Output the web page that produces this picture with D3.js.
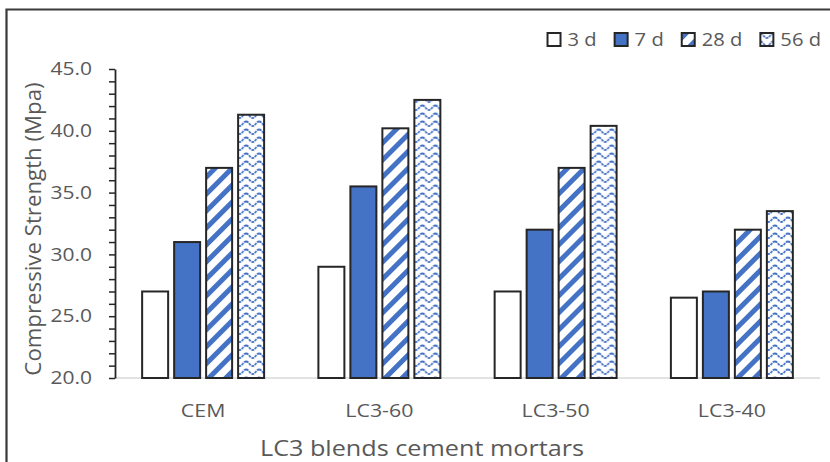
<!DOCTYPE html>
<html>
<head>
<meta charset="utf-8">
<script src="https://cdn.jsdelivr.net/npm/d3@7"></script>
<style>
  html, body { margin: 0; padding: 0; background: #fff; }
  svg { display: block; }
  text { font-family: "Open Sans", "Noto Sans", sans-serif; fill: #595959; }
</style>
</head>
<body>
<svg id="chart" width="830" height="462"></svg>
<script>
// Compressive strength of mortars by curing age
const categories = ["CEM", "LC3-60", "LC3-50", "LC3-40"];
const ages = ["3 d", "7 d", "28 d", "56 d"];
const strength3d  = [27.0, 29.0, 27.0, 26.5];
const strength7d  = [31.0, 35.5, 32.0, 27.0];
const strength28d = [37.0, 40.2, 37.0, 32.0];
const strength56d = [41.3, 42.5, 40.4, 33.5];
const yMajorTicks = [20, 25, 30, 35, 40, 45];
const yMinorTicks = d3.range(20, 46, 1);

const seriesValues = [strength3d, strength7d, strength28d, strength56d];
const rows = categories.map((c, i) => ({
  category: c,
  values: ages.map((a, j) => ({ age: a, value: seriesValues[j][i] }))
}));

const W = 830, H = 462;
const plot = { left: 115, right: 820, top: 69, bottom: 378 };
const blue = "#4472C4";
const edge = "#262626";

// widen glyphs horizontally around each text's own anchor point
function stretch(sel, sx) {
  sel.each(function () {
    const t = d3.select(this);
    const x = +t.attr("x") || 0;
    t.attr("transform", `translate(${x * (1 - sx)},0) scale(${sx},1)`);
  });
}

const svg = d3.select("#chart");
const defs = svg.append("defs");

// wide upward diagonal stripes
const diag = defs.append("pattern")
  .attr("id", "pat28").attr("patternUnits", "userSpaceOnUse")
  .attr("width", 12).attr("height", 12)
  .attr("patternTransform", "rotate(45)");
diag.append("rect").attr("width", 12).attr("height", 12).attr("fill", "#fff");
diag.append("rect").attr("x", 0).attr("width", 5).attr("height", 12).attr("fill", blue);

// wave pattern
const wave = defs.append("pattern")
  .attr("id", "pat56").attr("patternUnits", "userSpaceOnUse")
  .attr("width", 13).attr("height", 8);
wave.append("rect").attr("width", 13).attr("height", 8).attr("fill", "#fff");
wave.append("path")
  .attr("d", "M0,1.5 C3,1.5 3.5,6 6.5,6 C9.5,6 10,1.5 13,1.5")
  .attr("fill", "none").attr("stroke", blue).attr("stroke-width", 1.8)
  .attr("stroke-dasharray", "2.6,0.9");

const fills = { "3 d": "#fff", "7 d": blue, "28 d": "url(#pat28)", "56 d": "url(#pat56)" };

// outer frame
svg.append("path")
  .attr("d", `M6.5,${H} V9.5 H${W}`)
  .attr("fill", "none").attr("stroke", "#3a3a3a").attr("stroke-width", 2.2);

const x0 = d3.scaleBand().domain(categories)
  .range([plot.left, plot.right]).paddingInner(0.308).paddingOuter(0.154);
const x1 = d3.scaleBand().domain(ages)
  .range([0, x0.bandwidth()]).paddingInner(0.1875).paddingOuter(0);
const y = d3.scaleLinear().domain([20, 45]).range([plot.bottom, plot.top]);

// category baseline
svg.append("line")
  .attr("x1", plot.left).attr("x2", plot.right)
  .attr("y1", y(20)).attr("y2", y(20))
  .attr("stroke", "#d9d9d9").attr("stroke-width", 1.5);

// bars
const groups = svg.append("g").selectAll("g").data(rows).join("g")
  .attr("transform", d => `translate(${x0(d.category)},0)`);
groups.selectAll("rect").data(d => d.values).join("rect")
  .attr("x", d => x1(d.age))
  .attr("y", d => y(d.value))
  .attr("width", x1.bandwidth())
  .attr("height", d => y(20) - y(d.value))
  .attr("fill", d => fills[d.age])
  .attr("stroke", edge).attr("stroke-width", 2);

// y axis: minor ticks, then labelled majors
const yAxisG = svg.append("g").attr("transform", `translate(${plot.left},0)`);
yAxisG.call(d3.axisLeft(y).tickValues(yMinorTicks).tickSize(6).tickSizeOuter(0).tickFormat(""));
yAxisG.call(g => g.selectAll(".tick line").attr("stroke", edge).attr("stroke-width", 1.5));
yAxisG.select(".domain").attr("stroke", edge).attr("stroke-width", 1.8);

const yLabels = svg.append("g").attr("transform", `translate(${plot.left},0)`)
  .call(d3.axisLeft(y).tickValues(yMajorTicks).tickSize(0).tickPadding(23).tickFormat(d3.format(".1f")));
yLabels.select(".domain").remove();
yLabels.selectAll("text").attr("font-size", 17.5).attr("fill", "#595959")
  .style("font-family", '"Open Sans", sans-serif').call(stretch, 1.2);

// x axis labels
const xLabels = svg.append("g").attr("transform", `translate(0,${plot.bottom})`)
  .call(d3.axisBottom(x0).tickSize(0).tickPadding(26.5));
xLabels.select(".domain").remove();
xLabels.selectAll("text").attr("font-size", 17.5).attr("fill", "#595959")
  .style("font-family", '"Open Sans", sans-serif').call(stretch, 1.22);

// axis titles
svg.append("text")
  .attr("x", 422).attr("y", 456)
  .attr("text-anchor", "middle").attr("font-size", 21)
  .text("LC3 blends cement mortars").call(stretch, 1.2);
svg.append("text")
  .attr("transform", `translate(41,229) rotate(-90) scale(1.06,1)`)
  .attr("text-anchor", "middle").attr("font-size", 21)
  .text("Compressive Strength (Mpa)");

// legend, laid out from the right edge
const legend = svg.append("g");
const items = legend.selectAll("g").data(ages).join("g");
items.append("rect")
  .attr("width", 13).attr("height", 13).attr("y", 33)
  .attr("fill", d => fills[d]).attr("stroke", edge).attr("stroke-width", 2);
items.append("text")
  .attr("x", 20).attr("y", 46.5).attr("font-size", 18)
  .text(d => d).call(stretch, 1.12);
const widths = [];
items.each(function () { widths.push(this.getBoundingClientRect().width); });
let cursor = 821;
const starts = new Array(ages.length);
for (let i = ages.length - 1; i >= 0; i--) {
  cursor -= widths[i];
  starts[i] = cursor;
  cursor -= 18;
}
items.attr("transform", (d, i) => `translate(${starts[i]},0)`);
</script>
</body>
</html>
